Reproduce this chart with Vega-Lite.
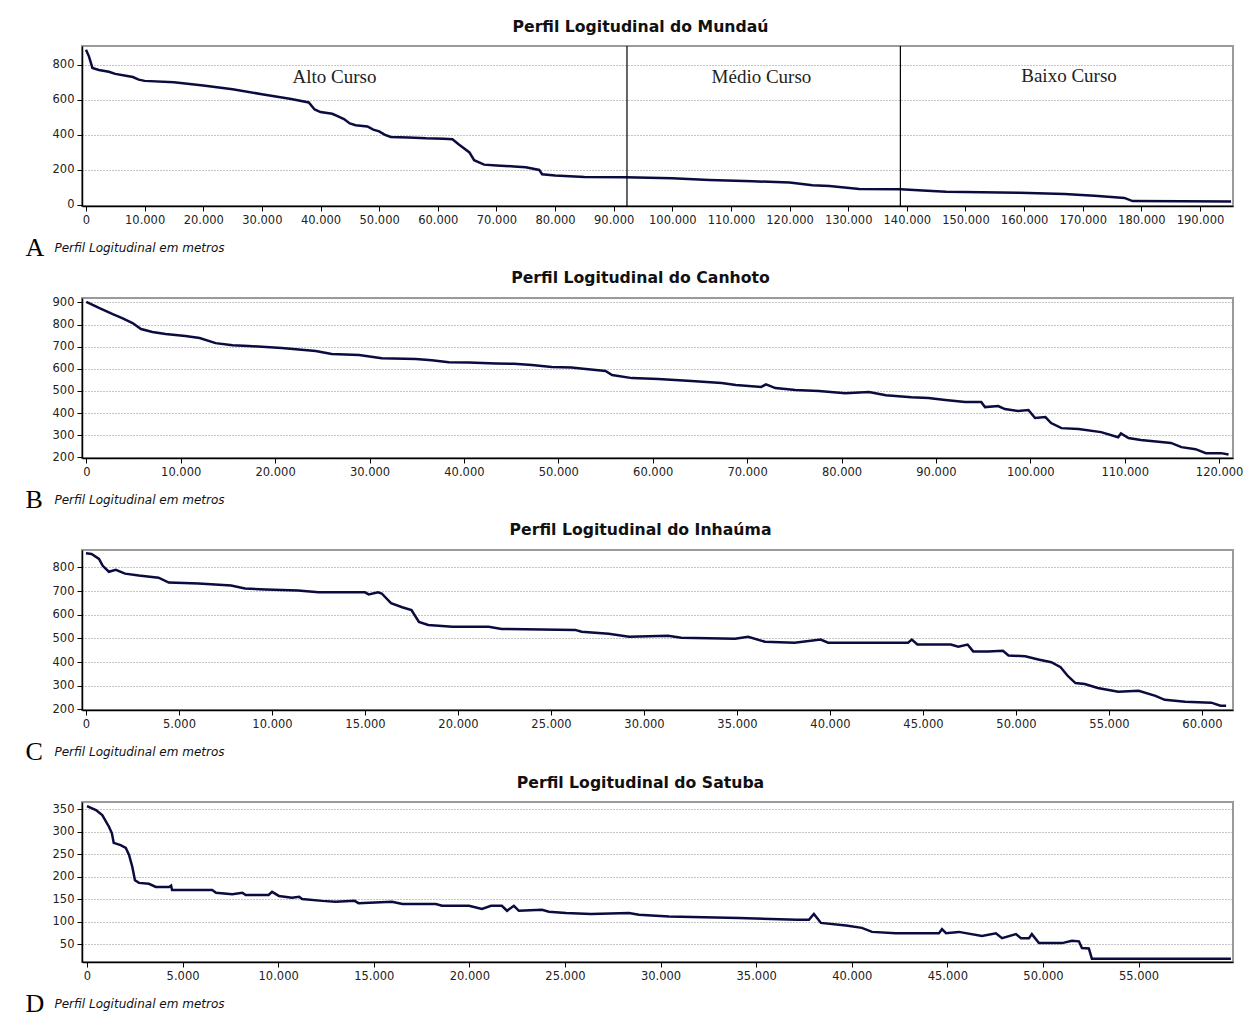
{
  "$schema": "https://vega.github.io/schema/vega-lite/v6.json",
  "background": "white",
  "padding": {"top": 17, "left": 24, "right": 0, "bottom": 0},
  "spacing": 92,
  "bounds": "flush",
  "datasets": {
    "mundau": [{"d":0,"z":885},{"d":500,"z":848},{"d":1100,"z":782},{"d":2200,"z":770},{"d":3900,"z":760},{"d":5000,"z":748},{"d":6800,"z":737},{"d":8000,"z":730},{"d":9000,"z":715},{"d":10000,"z":708},{"d":15000,"z":700},{"d":20000,"z":682},{"d":25000,"z":660},{"d":30000,"z":632},{"d":35000,"z":605},{"d":38000,"z":585},{"d":39000,"z":545},{"d":40000,"z":530},{"d":42000,"z":520},{"d":43000,"z":505},{"d":44000,"z":490},{"d":45000,"z":465},{"d":46000,"z":455},{"d":48000,"z":448},{"d":49000,"z":430},{"d":50000,"z":420},{"d":51000,"z":400},{"d":52000,"z":388},{"d":55000,"z":385},{"d":58000,"z":380},{"d":61000,"z":378},{"d":62500,"z":375},{"d":63600,"z":345},{"d":65400,"z":300},{"d":66200,"z":255},{"d":67900,"z":230},{"d":70000,"z":225},{"d":73000,"z":220},{"d":75000,"z":215},{"d":77300,"z":200},{"d":77800,"z":175},{"d":80000,"z":168},{"d":85000,"z":160},{"d":92000,"z":158},{"d":100000,"z":152},{"d":106300,"z":142},{"d":113700,"z":135},{"d":120000,"z":128},{"d":123900,"z":112},{"d":126800,"z":108},{"d":130200,"z":97},{"d":131900,"z":91},{"d":139000,"z":90},{"d":142700,"z":82},{"d":146700,"z":75},{"d":159200,"z":70},{"d":166900,"z":62},{"d":172000,"z":52},{"d":174900,"z":45},{"d":177100,"z":40},{"d":178500,"z":22},{"d":195300,"z":20}],
    "canhoto": [{"d":0,"z":903},{"d":1400,"z":874},{"d":2800,"z":847},{"d":3800,"z":829},{"d":4900,"z":807},{"d":5800,"z":780},{"d":7000,"z":766},{"d":8400,"z":757},{"d":10500,"z":748},{"d":12000,"z":739},{"d":13700,"z":716},{"d":15500,"z":707},{"d":17200,"z":703},{"d":20700,"z":694},{"d":24300,"z":680},{"d":26000,"z":667},{"d":28900,"z":662},{"d":31300,"z":648},{"d":34900,"z":644},{"d":36600,"z":639},{"d":38400,"z":630},{"d":40500,"z":628},{"d":43400,"z":624},{"d":45300,"z":623},{"d":47200,"z":617},{"d":49300,"z":608},{"d":51400,"z":606},{"d":52900,"z":599},{"d":55000,"z":590},{"d":55700,"z":572},{"d":57800,"z":558},{"d":60600,"z":554},{"d":64100,"z":545},{"d":67300,"z":536},{"d":68800,"z":527},{"d":71500,"z":518},{"d":72000,"z":530},{"d":73000,"z":513},{"d":75100,"z":504},{"d":77600,"z":500},{"d":80400,"z":490},{"d":82900,"z":495},{"d":84700,"z":481},{"d":87400,"z":472},{"d":89200,"z":468},{"d":91000,"z":459},{"d":93100,"z":450},{"d":94800,"z":450},{"d":95200,"z":427},{"d":96600,"z":432},{"d":97300,"z":418},{"d":98700,"z":409},{"d":99800,"z":414},{"d":100500,"z":378},{"d":101600,"z":382},{"d":102200,"z":355},{"d":103300,"z":332},{"d":105100,"z":328},{"d":107500,"z":314},{"d":109300,"z":291},{"d":109600,"z":308},{"d":110400,"z":287},{"d":111700,"z":278},{"d":114900,"z":265},{"d":116000,"z":246},{"d":117500,"z":237},{"d":118600,"z":219},{"d":120200,"z":219},{"d":121000,"z":213}],
    "inhauma": [{"d":0,"z":860},{"d":300,"z":857},{"d":700,"z":836},{"d":900,"z":807},{"d":1230,"z":782},{"d":1600,"z":790},{"d":2100,"z":774},{"d":2840,"z":766},{"d":3900,"z":757},{"d":4450,"z":736},{"d":6050,"z":732},{"d":7800,"z":724},{"d":8550,"z":711},{"d":9650,"z":707},{"d":11400,"z":703},{"d":12500,"z":695},{"d":15000,"z":695},{"d":15200,"z":686},{"d":15700,"z":695},{"d":15900,"z":690},{"d":16400,"z":649},{"d":17000,"z":632},{"d":17500,"z":620},{"d":17900,"z":570},{"d":18400,"z":557},{"d":19700,"z":549},{"d":21650,"z":549},{"d":22350,"z":540},{"d":26300,"z":536},{"d":26650,"z":528},{"d":28100,"z":520},{"d":29200,"z":507},{"d":31300,"z":511},{"d":32000,"z":503},{"d":34900,"z":499},{"d":35600,"z":507},{"d":36500,"z":486},{"d":38100,"z":482},{"d":39500,"z":495},{"d":39900,"z":482},{"d":44200,"z":482},{"d":44400,"z":495},{"d":44700,"z":474},{"d":46500,"z":474},{"d":46900,"z":465},{"d":47400,"z":474},{"d":47700,"z":445},{"d":48500,"z":445},{"d":49300,"z":448},{"d":49600,"z":428},{"d":50500,"z":424},{"d":51200,"z":411},{"d":51900,"z":399},{"d":52400,"z":378},{"d":52800,"z":340},{"d":53200,"z":311},{"d":53700,"z":307},{"d":54400,"z":290},{"d":55500,"z":274},{"d":56600,"z":278},{"d":57500,"z":257},{"d":58000,"z":240},{"d":59100,"z":232},{"d":60500,"z":228},{"d":61000,"z":215},{"d":61300,"z":215}],
    "satuba": [{"d":0,"z":357},{"d":470,"z":348},{"d":800,"z":337},{"d":1150,"z":311},{"d":1300,"z":297},{"d":1400,"z":275},{"d":1760,"z":270},{"d":2030,"z":264},{"d":2200,"z":248},{"d":2370,"z":222},{"d":2510,"z":192},{"d":2720,"z":186},{"d":3240,"z":184},{"d":3600,"z":177},{"d":4300,"z":177},{"d":4400,"z":180},{"d":4450,"z":170},{"d":6550,"z":170},{"d":6750,"z":164},{"d":7600,"z":161},{"d":8130,"z":164},{"d":8300,"z":159},{"d":9500,"z":159},{"d":9680,"z":166},{"d":10040,"z":157},{"d":10720,"z":153},{"d":11100,"z":155},{"d":11250,"z":150},{"d":12300,"z":146},{"d":13000,"z":144},{"d":14000,"z":146},{"d":14200,"z":141},{"d":15950,"z":144},{"d":16500,"z":139},{"d":18250,"z":139},{"d":18570,"z":135},{"d":19980,"z":135},{"d":20660,"z":128},{"d":21130,"z":135},{"d":21700,"z":135},{"d":21970,"z":124},{"d":22330,"z":135},{"d":22590,"z":124},{"d":23800,"z":126},{"d":24160,"z":122},{"d":25050,"z":119},{"d":26360,"z":117},{"d":28350,"z":119},{"d":28870,"z":115},{"d":30440,"z":111},{"d":34100,"z":108},{"d":37130,"z":104},{"d":37760,"z":104},{"d":38020,"z":117},{"d":38390,"z":97},{"d":39700,"z":91},{"d":40530,"z":86},{"d":41060,"z":77},{"d":42300,"z":74},{"d":44560,"z":74},{"d":44720,"z":83},{"d":44930,"z":74},{"d":45600,"z":77},{"d":46810,"z":68},{"d":47540,"z":74},{"d":47860,"z":63},{"d":48590,"z":72},{"d":48850,"z":63},{"d":49270,"z":63},{"d":49420,"z":72},{"d":49790,"z":52},{"d":51000,"z":52},{"d":51520,"z":57},{"d":51880,"z":56},{"d":52040,"z":41},{"d":52400,"z":40},{"d":52560,"z":17},{"d":59830,"z":17}],
    "divisas": [{"d":92270},{"d":138900}],
    "cursos": [{"label":"Alto Curso","d":42380,"z":698},{"label":"Médio Curso","d":115200,"z":694},{"label":"Baixo Curso","d":167660,"z":702}]
  },
  "vconcat": [
    {
      "width": 1151, "height": 160,
      "title": "Perfil Logitudinal do Mundaú",
      "encoding": {
        "x": {"field": "d", "type": "quantitative", "scale": {"domain": [-680, 195630], "nice": false, "zero": false},
              "axis": {"values": [0,10000,20000,30000,40000,50000,60000,70000,80000,90000,100000,110000,120000,130000,140000,150000,160000,170000,180000,190000], "labelExpr": "replace(format(datum.value, ','), ',', '.')", "grid": false, "labelOverlap": false, "title": "Perfil Logitudinal em metros"}}
      },
      "layer": [
        {
          "data": {"name": "mundau"},
          "mark": {"type": "line", "color": "#0b0b3f", "strokeWidth": 2.5},
          "encoding": {
            "y": {"field": "z", "type": "quantitative", "scale": {"domain": [-6, 907], "nice": false, "zero": false},
                  "axis": {"values": [0,200,400,600,800], "grid": true, "labelOverlap": false, "title": "A"}}
          }
        },
        {
          "data": {"name": "divisas"},
          "mark": {"type": "rule", "color": "#000000", "strokeWidth": 1.2},
          "encoding": {}
        },
        {
          "data": {"name": "cursos"},
          "mark": {"type": "text", "font": "Liberation Serif", "fontSize": 19, "color": "#222222", "align": "center", "baseline": "alphabetic"},
          "encoding": {
            "y": {"field": "z", "type": "quantitative", "scale": {"domain": [-6, 907], "nice": false, "zero": false},
                  "axis": {"values": [0,200,400,600,800], "grid": true, "labelOverlap": false, "title": "A"}},
            "text": {"field": "label"}
          }
        }
      ]
    },
    {
      "width": 1151, "height": 160,
      "title": "Perfil Logitudinal do Canhoto",
      "data": {"name": "canhoto"},
      "mark": {"type": "line", "color": "#0b0b3f", "strokeWidth": 2.5},
      "encoding": {
        "x": {"field": "d", "type": "quantitative", "scale": {"domain": [-455, 121470], "nice": false, "zero": false},
              "axis": {"values": [0,10000,20000,30000,40000,50000,60000,70000,80000,90000,100000,110000,120000], "labelExpr": "replace(format(datum.value, ','), ',', '.')", "grid": false, "labelOverlap": false, "title": "Perfil Logitudinal em metros"}},
        "y": {"field": "z", "type": "quantitative", "scale": {"domain": [197, 920], "nice": false, "zero": false},
              "axis": {"values": [200,300,400,500,600,700,800,900], "grid": true, "labelOverlap": false, "title": "B"}}
      }
    },
    {
      "width": 1151, "height": 160,
      "title": "Perfil Logitudinal do Inhaúma",
      "data": {"name": "inhauma"},
      "mark": {"type": "line", "color": "#0b0b3f", "strokeWidth": 2.5},
      "encoding": {
        "x": {"field": "d", "type": "quantitative", "scale": {"domain": [-215, 61670], "nice": false, "zero": false},
              "axis": {"values": [0,5000,10000,15000,20000,25000,30000,35000,40000,45000,50000,55000,60000], "labelExpr": "replace(format(datum.value, ','), ',', '.')", "grid": false, "labelOverlap": false, "title": "Perfil Logitudinal em metros"}},
        "y": {"field": "z", "type": "quantitative", "scale": {"domain": [197, 874], "nice": false, "zero": false},
              "axis": {"values": [200,300,400,500,600,700,800], "grid": true, "labelOverlap": false, "title": "C"}}
      }
    },
    {
      "width": 1151, "height": 160,
      "title": "Perfil Logitudinal do Satuba",
      "data": {"name": "satuba"},
      "mark": {"type": "line", "color": "#0b0b3f", "strokeWidth": 2.5},
      "encoding": {
        "x": {"field": "d", "type": "quantitative", "scale": {"domain": [-260, 59940], "nice": false, "zero": false},
              "axis": {"values": [0,5000,10000,15000,20000,25000,30000,35000,40000,45000,50000,55000], "labelExpr": "replace(format(datum.value, ','), ',', '.')", "grid": false, "labelOverlap": false, "title": "Perfil Logitudinal em metros"}},
        "y": {"field": "z", "type": "quantitative", "scale": {"domain": [10, 366], "nice": false, "zero": false},
              "axis": {"values": [50,100,150,200,250,300,350], "grid": true, "labelOverlap": false, "title": "D"}}
      }
    }
  ],
  "config": {
    "view": {"stroke": "#9a9a9a", "strokeWidth": 2},
    "axis": {
      "domainColor": "#000000", "domainWidth": 1.5,
      "tickColor": "#000000", "tickSize": 5, "tickWidth": 1,
      "labelFont": "DejaVu Sans", "labelFontSize": 11.5, "labelColor": "#222222", "labelPadding": 3,
      "gridColor": "#8a8a8a", "gridDash": [1, 2], "gridWidth": 1
    },
    "axisX": {
      "titleFont": "DejaVu Sans", "titleFontSize": 12, "titleFontStyle": "italic", "titleFontWeight": "normal",
      "titleColor": "#111111", "titleAlign": "left", "titleAnchor": "start", "titleBaseline": "alphabetic",
      "titleX": -28, "titleY": 45
    },
    "axisY": {
      "titleFont": "Liberation Serif", "titleFontSize": 26, "titleFontWeight": "normal", "titleColor": "#000000",
      "titleAngle": 0, "titleAlign": "left", "titleBaseline": "alphabetic", "titleX": -57, "titleY": 209
    },
    "title": {
      "font": "DejaVu Sans", "fontSize": 15.7, "fontWeight": "bold", "color": "#111111",
      "offset": 9.5, "baseline": "alphabetic", "frame": "group", "anchor": "middle", "dx": -17
    }
  }
}
